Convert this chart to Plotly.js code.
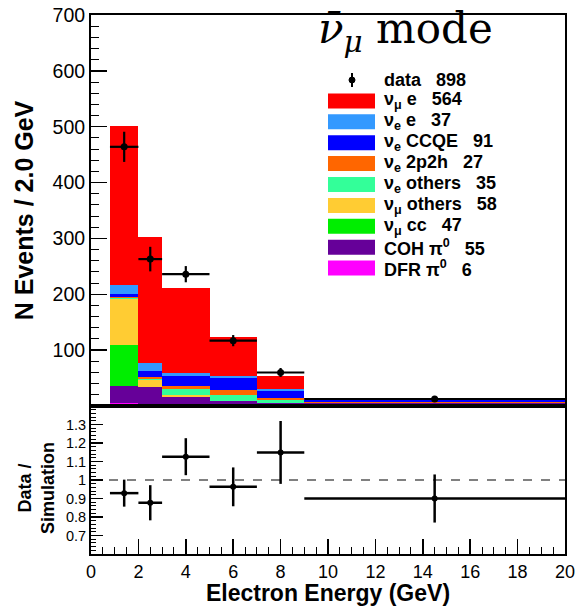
<!DOCTYPE html>
<html><head><meta charset="utf-8">
<script src="https://cdn.plot.ly/plotly-3.0.1.min.js"></script>
<style>html,body{margin:0;padding:0;background:#fff}#chart{width:577px;height:606px}</style>
</head><body><div id="chart"></div>
<script>
// ---- data ----
const binLow  = [0.8, 2, 3, 5, 7, 9];
const binHigh = [2, 3, 5, 7, 9, 20];
// stacked simulation components, events / 2.0 GeV (bottom of stack first)
const dfrPi0     = [5, 3, 3, 2.5, 2.5, 1.5];
const cohPi0     = [31, 31, 14, 6.5, 3, 3.5];
const numuCC     = [73, 0.5, 0, 0, 0, 0];
const numuOthers = [82, 12, 2, 0.5, 0.3, 0.2];
const nueOthers  = [3, 2, 12, 10, 5, 0.8];
const nue2p2h    = [2, 3, 4, 9, 3, 0.5];
const nueCCQE    = [4, 12, 18, 21, 13.6, 4.5];
const nueE       = [17, 13, 6, 4, 3, 1];
const numuE      = [285, 226.5, 152, 69.5, 23.4, 2];
const dataY      = [464, 263, 236, 117, 60, 12.5];
const dataErr    = [27, 22, 14.5, 10, 8, 1.5];
const ratioY     = [0.929, 0.877, 1.126, 0.963, 1.149, 0.900];
const ratioErr   = [0.073, 0.095, 0.100, 0.105, 0.170, 0.130];
const legendLabels = ['data', 'ν<sub>μ</sub> e', 'ν<sub>e</sub> e', 'ν<sub>e</sub> CCQE', 'ν<sub>e</sub> 2p2h',
                      'ν<sub>e</sub> others', 'ν<sub>μ</sub> others', 'ν<sub>μ</sub> cc', 'COH π<sup>0</sup>', 'DFR π<sup>0</sup>'];
const legendCounts = [898, 564, 37, 91, 27, 35, 58, 47, 55, 6];
const yTickVals = [0, 100, 200, 300, 400, 500, 600, 700];
const rTickVals = [0.7, 0.8, 0.9, 1, 1.1, 1.2, 1.3];

// ---- derived ----
const centers = binLow.map((l, i) => (l + binHigh[i]) / 2);
const widths  = binLow.map((l, i) => binHigh[i] - l);
const halfW   = widths.map(w => w / 2);

const stack = [
  {y: dfrPi0,     c: '#ff00ff'},
  {y: cohPi0,     c: '#660099'},
  {y: numuCC,     c: '#00ee00'},
  {y: numuOthers, c: '#ffcc33'},
  {y: nueOthers,  c: '#33ff99'},
  {y: nue2p2h,    c: '#ff6600'},
  {y: nueCCQE,    c: '#0000ff'},
  {y: nueE,       c: '#3399ff'},
  {y: numuE,      c: '#ff0000'}
];
const legendColors = stack.map(s => s.c).reverse();

const traces = stack.map(s => ({
  type: 'bar', x: centers, y: s.y, width: widths, xaxis: 'x', yaxis: 'y',
  marker: {color: s.c, line: {width: 0}}, hoverinfo: 'skip'
}));
traces.push({
  type: 'scatter', mode: 'markers', x: centers, y: dataY, xaxis: 'x', yaxis: 'y',
  marker: {color: 'black', size: 7},
  error_y: {type: 'data', array: dataErr, color: 'black', thickness: 2.2, width: 0},
  error_x: {type: 'data', array: halfW, color: 'black', thickness: 2.2, width: 0}
});
traces.push({
  type: 'scatter', mode: 'markers', x: centers, y: ratioY, xaxis: 'x2', yaxis: 'y2',
  marker: {color: 'black', size: 6},
  error_y: {type: 'data', array: ratioErr, color: 'black', thickness: 2.5, width: 0},
  error_x: {type: 'data', array: halfW, color: 'black', thickness: 2.5, width: 0}
});

// pixel -> paper helpers
const L = 91, R = 565, T = 15, B = 554;
const px = p => (p - L) / (R - L);
const py = p => (B - p) / (B - T);
const split = py(406);

const shapes = [{
  type: 'line', xref: 'x2', yref: 'y2', x0: 0, x1: 20, y0: 1, y1: 1,
  line: {color: '#808080', width: 2, dash: 'dash'}, layer: 'below'
}];
const annotations = [];
const rowY0 = 80, rowStep = 20.9;
legendLabels.forEach((lab, i) => {
  const yc = rowY0 + rowStep * i;
  if (i === 0) {
    shapes.push({type: 'line', xref: 'paper', yref: 'paper', x0: px(352), x1: px(352), y0: py(yc - 7), y1: py(yc + 7),
                 line: {color: 'black', width: 2}});
    shapes.push({type: 'circle', xref: 'paper', yref: 'paper', xsizemode: 'pixel', ysizemode: 'pixel',
                 xanchor: px(352), yanchor: py(yc), x0: -3, x1: 3, y0: -3, y1: 3,
                 fillcolor: 'black', line: {color: 'black', width: 1}});
  } else {
    shapes.push({type: 'rect', xref: 'paper', yref: 'paper', x0: px(328), x1: px(375), y0: py(yc + 7.5), y1: py(yc - 7.5),
                 fillcolor: legendColors[i - 1], line: {width: 0}});
  }
  annotations.push({
    xref: 'paper', yref: 'paper', x: px(382), y: py(yc), xanchor: 'left', yanchor: 'middle', showarrow: false,
    text: lab + '\u00a0\u00a0\u00a0' + legendCounts[i],
    font: {size: 18, weight: 'bold', family: 'Liberation Sans, Arial, sans-serif', color: 'black'}
  });
});
annotations.push({
  xref: 'paper', yref: 'paper', x: px(316), y: py(32), xanchor: 'left', yanchor: 'middle', showarrow: false,
  text: '<i>ν\u0304</i><sub><i>μ</i></sub>\u00a0mode',
  font: {size: 42, family: 'DejaVu Serif, Liberation Serif, serif', color: 'black'}
});
// ratio panel y title
annotations.push({
  xref: 'paper', yref: 'paper', x: px(36), y: py(488), xanchor: 'center', yanchor: 'middle', showarrow: false,
  textangle: -90, text: 'Data /<br>Simulation',
  font: {size: 18, weight: 'bold', family: 'Liberation Sans, Arial, sans-serif', color: 'black'}
});

const axisCommon = {showline: true, mirror: true, linewidth: 2, linecolor: 'black', showgrid: false, zeroline: false};

const layout = {
  width: 577, height: 606,
  margin: {l: L, r: 577 - R, t: T, b: 606 - B},
  paper_bgcolor: 'white', plot_bgcolor: 'white',
  showlegend: false, barmode: 'stack', bargap: 0,
  font: {family: 'Liberation Sans, Arial, sans-serif', color: 'black'},
  xaxis: Object.assign({}, axisCommon, {
    anchor: 'y', domain: [0, 1], range: [0, 20], showticklabels: false, ticks: ''
  }),
  yaxis: Object.assign({}, axisCommon, {
    anchor: 'x', domain: [split, 1], range: [0, 700],
    tickmode: 'array', tickvals: yTickVals, ticktext: yTickVals.map(v => v === 0 ? '' : String(v)),
    ticks: 'inside', ticklen: 16, tickwidth: 1.5, tickcolor: 'black',
    minor: {ticks: 'inside', tick0: 0, dtick: 20, ticklen: 8, tickwidth: 1, tickcolor: 'black'},
    tickfont: {size: 19.5},
    title: {text: 'N Events / 2.0 GeV', font: {size: 25, weight: 'bold'}, standoff: 12}
  }),
  xaxis2: Object.assign({}, axisCommon, {
    anchor: 'y2', domain: [0, 1], range: [0, 20],
    tickmode: 'linear', tick0: 0, dtick: 2,
    ticks: 'inside', ticklen: 15, tickwidth: 1.5, tickcolor: 'black',
    minor: {ticks: 'inside', tick0: 0, dtick: 0.5, ticklen: 7, tickwidth: 1, tickcolor: 'black'},
    tickfont: {size: 18},
    title: {text: 'Electron Energy (GeV)', font: {size: 23, weight: 'bold'}, standoff: 4}
  }),
  yaxis2: Object.assign({}, axisCommon, {
    anchor: 'x2', domain: [0, split], range: [0.6, 1.4],
    tickmode: 'array', tickvals: rTickVals, ticktext: rTickVals.map(v => String(v)),
    ticks: 'inside', ticklen: 12, tickwidth: 1.5, tickcolor: 'black',
    minor: {ticks: 'inside', tick0: 0.6, dtick: 0.02, ticklen: 5, tickwidth: 1, tickcolor: 'black'},
    tickfont: {size: 14.5}
  }),
  shapes: shapes,
  annotations: annotations
};

Plotly.newPlot('chart', traces, layout, {displayModeBar: false, staticPlot: true});
</script>
</body></html>
